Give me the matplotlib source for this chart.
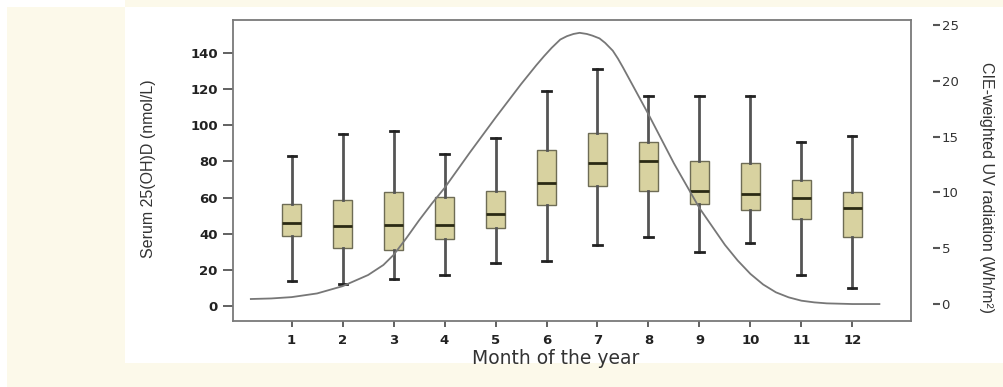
import matplotlib
matplotlib.use("Agg")
import matplotlib.pyplot as plt
from matplotlib.patches import Rectangle

# serum 25(OH)D by month (nmol/L): whiskers, quartiles, median
months = [1, 2, 3, 4, 5, 6, 7, 8, 9, 10, 11, 12]
whis_lo = [14, 12, 15, 17, 24, 25, 34, 38, 30, 35, 17, 10]
q1 = [38.5, 32, 31, 37, 43, 56, 66.5, 63.5, 56.5, 53, 48, 38]
median = [46, 44.5, 45, 45, 51, 68, 79, 80, 63.5, 62, 60, 54]
q3 = [56.5, 58.5, 63, 60.5, 63.5, 86.5, 96, 91, 80.5, 79, 70, 63]
whis_hi = [83, 95, 97, 84, 93, 119, 131, 116, 116, 116, 91, 94]

# CIE-weighted UV radiation curve (Wh/m2) over the year
uv_month = [0.2, 0.6, 1.0, 1.5, 2.0, 2.5, 2.8, 3.0, 3.25, 3.5, 3.75, 4.0, 4.5, 5.0,
            5.5, 5.8, 5.95, 6.1, 6.27, 6.4, 6.53, 6.65, 6.79, 6.9, 7.04, 7.15, 7.3,
            7.4, 7.5, 7.75, 8.0, 8.5, 9.0, 9.5, 9.75, 10.0, 10.25, 10.5, 10.75, 11.0,
            11.25, 11.5, 12.0, 12.53]
uv_value = [0.45, 0.5, 0.62, 0.95, 1.6, 2.6, 3.5, 4.4, 5.9, 7.5, 9.0, 10.4, 13.6, 16.7,
            19.7, 21.4, 22.2, 22.95, 23.7, 24.0, 24.2, 24.3, 24.2, 24.05, 23.8, 23.4, 22.7,
            22.0, 21.2, 19.1, 17.0, 12.6, 8.6, 5.3, 3.9, 2.7, 1.75, 1.05, 0.6, 0.3,
            0.15, 0.06, 0.0, 0.0]

serum_ticks = [0, 20, 40, 60, 80, 100, 120, 140]
uv_ticks = [0, 5, 10, 15, 20, 25]

cream = "#fcf9ea"
fig = plt.figure(figsize=(10.04, 3.87), dpi=100, facecolor=cream)
W, H = 1004, 387


def px_rect(x0, y0, x1, y1, color):
    fig.add_artist(Rectangle((x0 / W, 1 - y1 / H), (x1 - x0) / W, (y1 - y0) / H,
                             transform=fig.transFigure, color=color, lw=0, zorder=-10))


px_rect(125, 7, 1004, 363, "white")
px_rect(0, 0, 125, 7, "white")
px_rect(0, 0, 7, 387, "white")

ax = fig.add_axes([233 / W, 1 - 321 / H, (911 - 233) / W, (321 - 20) / H])
ax.set_facecolor("white")

stats = []
for i in range(len(months)):
    stats.append({"med": median[i], "q1": q1[i], "q3": q3[i],
                  "whislo": whis_lo[i], "whishi": whis_hi[i], "fliers": []})

ax.bxp(stats, positions=months, widths=0.38, capwidths=0.16, patch_artist=True,
       showfliers=False,
       boxprops=dict(facecolor="#d8d2a0", edgecolor="#6e6c55", linewidth=1.0),
       medianprops=dict(color="#2b2a14", linewidth=2.0),
       whiskerprops=dict(color="#555555", linewidth=2.0),
       capprops=dict(color="#222222", linewidth=2.0))

ax.set_xlim(-0.15, 13.15)
ax.set_ylim(-8.3, 158.3)
ax.set_yticks(serum_ticks)
ax.set_xticks(months)
ax.set_xticklabels([str(m) for m in months])
for sp in ax.spines.values():
    sp.set_color("#7a7a7a")
    sp.set_linewidth(1.3)
ax.tick_params(axis="y", length=7, width=1.3, color="#555555", pad=4,
               labelsize=9.5, labelcolor="#222222")
ax.tick_params(axis="x", length=4, width=1.3, color="#555555", pad=5,
               labelsize=9.5, labelcolor="#222222")
for lab in ax.get_xticklabels() + ax.get_yticklabels():
    lab.set_fontweight("bold")

ax2 = ax.twinx()
ax2.plot(uv_month, uv_value, color="#777777", linewidth=1.3)
ax2.set_ylim(-1.52, 25.45)
ax2.set_yticks(uv_ticks)
ax2.set_yticklabels([str(v) for v in uv_ticks])
for name in ["top", "left", "bottom"]:
    ax2.spines[name].set_visible(False)
ax2.spines["right"].set_position(("outward", 16))
ax2.spines["right"].set_visible(False)
ax2.tick_params(axis="y", length=5, width=1.5, color="#555555", pad=1,
                labelsize=9.5, labelcolor="#333333")

side = ["Liberation Sans", "DejaVu Sans"]
fig.text(148 / W, 1 - 168.5 / H, "Serum 25(OH)D (nmol/L)", rotation=90,
         ha="center", va="center", fontsize=11.5, family=side, color="#333333")
fig.text(987 / W, 1 - 187 / H, "CIE-weighted UV radiation (Wh/m²)", rotation=270,
         ha="center", va="center", fontsize=11.5, family=side, color="#333333")
fig.text(556 / W, 1 - 358 / H, "Month of the year", ha="center", va="center",
         fontsize=13.5, color="#333333")

fig.savefig("out.png", dpi=100, facecolor=fig.get_facecolor())
